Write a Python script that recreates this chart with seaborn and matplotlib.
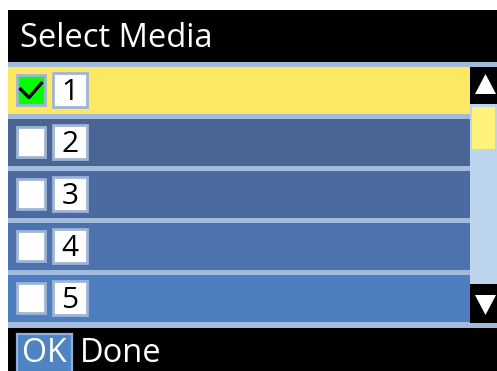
import matplotlib
matplotlib.use("Agg")
import matplotlib.pyplot as plt
import matplotlib.patches as mpatches
import seaborn as sns
import pandas as pd

# screen content
title = "Select Media"
media_rows = ["1", "2", "3", "4", "5"]
row_checked = [True, False, False, False, False]
row_fill = [1, 1, 1, 1, 1]
row_colors = ["#fde864", "#4a6494", "#4b6ba0", "#4c73ad", "#4f7ec0"]
footer_key = "OK"
footer_label = "Done"

sns.set_style("white")
plt.rcParams["font.family"] = ["Open Sans", "DejaVu Sans"]

W, H = 497, 371
SEP = "#a2badb"
BORDER = "#9fb5d6"


def pixel_axes(fig):
    ax = fig.add_axes([0, 0, 1, 1])
    ax.set_xlim(0, W)
    ax.set_ylim(H, 0)
    ax.axis("off")
    ax.patch.set_alpha(0)
    return ax


fig = plt.figure(figsize=(W / 100, H / 100), dpi=100)
fig.patch.set_facecolor("white")

# background: black screen and header
bg = pixel_axes(fig)
bg.add_patch(mpatches.Rectangle((8, 10), W - 8, H - 10, color="black", lw=0))
bg.text(20, 47, title, color="white", fontsize=23.5, va="baseline", ha="left")

# list rows drawn as horizontal bars
top, bottom, right = 62, 328, 470
lax = fig.add_axes([8 / W, (H - bottom) / H, (right - 8) / W, (bottom - top) / H])
lax.add_patch(mpatches.Rectangle((0, 0), 1, 1, transform=lax.transAxes,
                                 color=SEP, lw=0, zorder=-1))
df = pd.DataFrame({"media": media_rows, "fill": row_fill})
sns.barplot(data=df, x="fill", y="media", hue="media", palette=row_colors,
            orient="h", width=47 / 52, saturation=1, legend=False, ax=lax,
            linewidth=0)
lax.set_xlim(0, 1)
lax.set_ylim((bottom - 90.5) / 52, (top - 90.5) / 52)
lax.axis("off")

# overlay in pixel coordinates
fg = pixel_axes(fig)
fg.add_patch(mpatches.Rectangle((8, 62), W - 8, 5, color=SEP, lw=0))
fg.add_patch(mpatches.Rectangle((8, 323), W - 8, 5, color=SEP, lw=0))

# checkboxes and number boxes
for i, (lab, chk) in enumerate(zip(media_rows, row_checked)):
    y0 = 67 + 52 * i
    fg.add_patch(mpatches.Rectangle((17, y0 + 8), 28, 30,
                                    facecolor="#00ff00" if chk else "white",
                                    edgecolor=BORDER, lw=2.0, zorder=3))
    if chk:
        fg.plot([19.5, 29, 42.5], [y0 + 21, y0 + 30.5, y0 + 15], color="black",
                lw=2.4, solid_capstyle="butt", zorder=4)
    fg.add_patch(mpatches.Rectangle((53, y0 + 6), 34, 34, facecolor="white",
                                    edgecolor=BORDER, lw=2.0, zorder=3))
    fg.text(70, y0 + 32.5, lab, color="black", fontsize=21.5, ha="center",
            va="baseline", zorder=5)

# scrollbar
fg.add_patch(mpatches.Rectangle((470, 104), 27, 180, color="#bcd4ec", lw=0))
fg.add_patch(mpatches.Rectangle((472, 107), 23, 42, color="#fff27a", lw=0))
fg.add_patch(mpatches.Polygon([(475, 94), (496, 94), (485.5, 74)], color="white", lw=0))
fg.add_patch(mpatches.Polygon([(475, 295), (496, 295), (485.5, 315)], color="white", lw=0))

# footer
fg.add_patch(mpatches.Rectangle((16.5, 333.5), 55, 40, facecolor="#4f84c4",
                                edgecolor="#8fb0dc", lw=1.6))
fg.text(44, 362, footer_key, color="white", fontsize=23, ha="center", va="baseline")
fg.text(80, 362, footer_label, color="white", fontsize=23.5, ha="left", va="baseline")

fig.savefig("out.png", dpi=100)
